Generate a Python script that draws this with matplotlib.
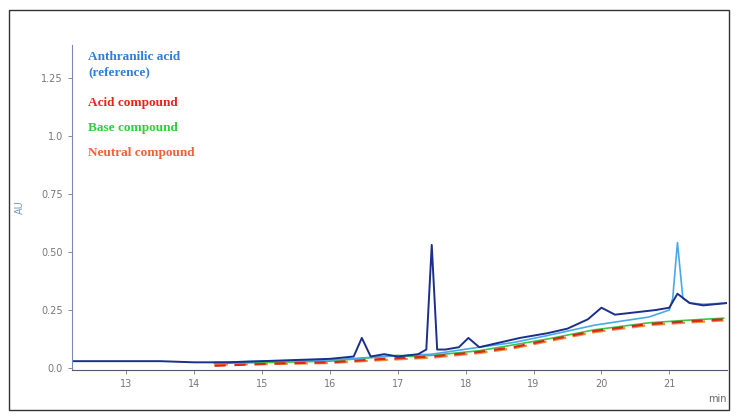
import matplotlib.pyplot as plt
from matplotlib.patches import Rectangle

# retention time (min) / absorbance (AU)
ref_t = [12.2, 13.5, 14.0, 14.5, 15.0, 15.5, 16.0, 16.35, 16.47, 16.6, 16.8, 17.0, 17.3,
         17.42, 17.5, 17.58, 17.7, 17.9, 18.04, 18.2, 18.5, 18.8, 19.2, 19.5, 19.8, 20.0,
         20.2, 20.5, 20.8, 21.0, 21.12, 21.3, 21.5, 21.85]
ref_y = [0.03, 0.03, 0.025, 0.025, 0.03, 0.035, 0.04, 0.05, 0.13, 0.05, 0.06, 0.05, 0.06,
         0.08, 0.53, 0.08, 0.08, 0.09, 0.13, 0.09, 0.11, 0.13, 0.15, 0.17, 0.21, 0.26,
         0.23, 0.24, 0.25, 0.26, 0.32, 0.28, 0.27, 0.28]

blank_t = [14.3, 15.0, 16.0, 16.8, 17.5, 18.2, 18.7, 19.2, 19.9, 20.7, 21.0, 21.05, 21.12,
           21.2, 21.3, 21.5, 21.85]
blank_y = [0.025, 0.03, 0.035, 0.05, 0.06, 0.09, 0.11, 0.14, 0.185, 0.22, 0.25, 0.3, 0.54,
           0.3, 0.28, 0.275, 0.28]

acid_t = [14.3, 15.2, 16.0, 16.8, 17.5, 18.2, 18.7, 19.2, 19.9, 20.7, 21.2, 21.8]
acid_y = [0.01, 0.02, 0.025, 0.04, 0.05, 0.07, 0.09, 0.12, 0.16, 0.19, 0.2, 0.21]

base_t = [14.3, 15.2, 16.0, 16.8, 17.0, 17.2, 17.5, 18.2, 19.2, 19.9, 20.7, 21.2, 21.8]
base_y = [0.02, 0.025, 0.03, 0.05, 0.055, 0.05, 0.055, 0.075, 0.125, 0.165, 0.195, 0.205, 0.215]

neut_t = [14.3, 15.2, 16.0, 16.8, 17.5, 18.2, 18.7, 19.2, 19.9, 20.7, 21.2, 21.8]
neut_y = [0.015, 0.018, 0.022, 0.035, 0.045, 0.065, 0.085, 0.115, 0.155, 0.185, 0.195, 0.205]

x_ticks = [13, 14, 15, 16, 17, 18, 19, 20, 21]
y_ticks = [0.0, 0.25, 0.5, 0.75, 1.0, 1.25]
y_labels = ["0.0", "0.25", "0.50", "0.75", "1.0", "1.25"]

legend_text = ["Anthranilic acid\n(reference)", "Acid compound", "Base compound", "Neutral compound"]
legend_col = ["#2f7fd6", "#e8231c", "#2fcf3a", "#f0603a"]

fig = plt.figure(figsize=(7.38, 4.19), dpi=100)
ax = fig.add_axes([72 / 738, 1 - 370 / 419, 655 / 738, 325 / 419])

ax.plot(base_t, base_y, color="#38c848", lw=1.2)
ax.plot(neut_t, neut_y, color="#f08a30", lw=1.6, dashes=(6, 3))
ax.plot(acid_t, acid_y, color="#d8281c", lw=1.6, dashes=(5, 4))
ax.plot(blank_t, blank_y, color="#4aa8e8", lw=1.2)
ax.plot(ref_t, ref_y, color="#1c2f8a", lw=1.4)

ax.set_xlim(12.2, 21.85)
ax.set_ylim(-0.008, 1.39)
ax.set_xticks(x_ticks)
ax.set_yticks(y_ticks)
ax.set_yticklabels(y_labels)
ax.tick_params(labelsize=7, colors="#777777", length=3, width=0.6)
for s in ["top", "right"]:
    ax.spines[s].set_visible(False)
ax.spines["left"].set_color("#7a8ab8")
ax.spines["bottom"].set_color("#555577")
ax.spines["bottom"].set_linestyle((0, (2, 1)))
ax.spines["left"].set_linewidth(0.8)
ax.spines["bottom"].set_linewidth(0.8)

ax.set_ylabel("AU", fontsize=7, color="#7799bb", labelpad=12)
ax.text(1.0, -0.09, "min", transform=ax.transAxes, fontsize=7, color="#666666",
        ha="right", va="center")

# legend as coloured text, serif bold like the original
ypos = [0.98, 0.84, 0.763, 0.686]
for txt, c, yy in zip(legend_text, legend_col, ypos):
    ax.text(0.025, yy, txt, transform=ax.transAxes, color=c, fontsize=9.5,
            family="Liberation Serif", fontweight="bold", va="top", linespacing=1.35)

# scanned page frame
fig.patches.append(Rectangle((9 / 738, 9 / 419), 720 / 738, 400 / 419, transform=fig.transFigure,
                             fill=False, edgecolor="#333333", lw=1.0))

fig.savefig("out.png", dpi=100)
